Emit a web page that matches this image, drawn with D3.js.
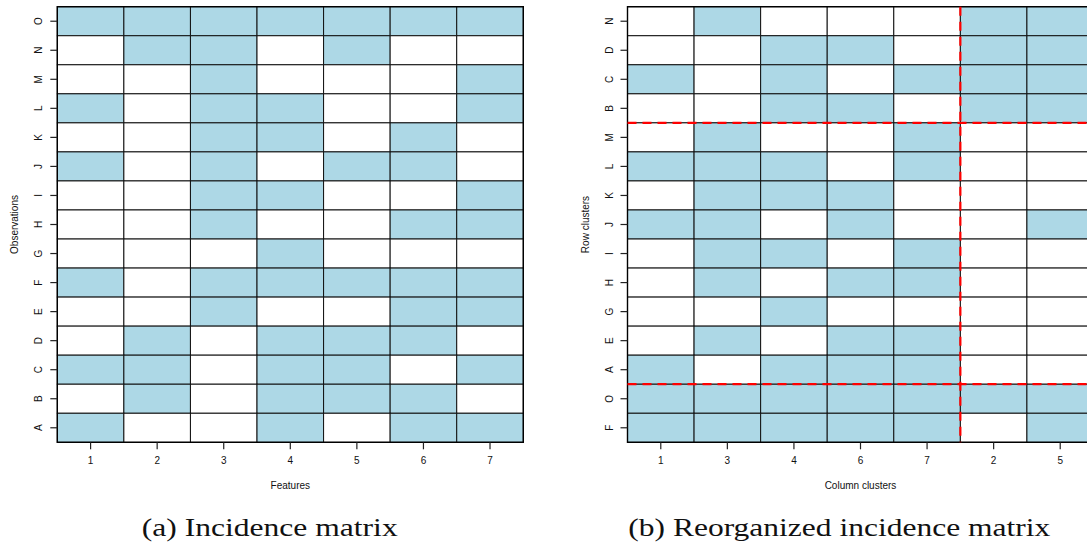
<!DOCTYPE html>
<html>
<head>
<meta charset="utf-8">
<script src="https://cdn.jsdelivr.net/npm/d3@7"></script>
<style>
  html, body { margin: 0; padding: 0; background: #fff; }
  svg { display: block; }
  .tick text { font-family: "Liberation Sans", Arial, sans-serif; font-size: 10px; fill: #111; }
  .axis-title { font-family: "Liberation Sans", Arial, sans-serif; font-size: 10px; fill: #111; }
  .caption { font-family: "Liberation Serif", "DejaVu Serif", serif; font-size: 26px; fill: #111; }
</style>
</head>
<body>
<script>
// Features (columns) and observations (rows) of the binary incidence matrix
const features = ["1", "2", "3", "4", "5", "6", "7"];
const observations = ["A", "B", "C", "D", "E", "F", "G", "H", "I", "J", "K", "L", "M", "N", "O"];

// Incidence values per observation, in feature order 1..7
const rowA = [1, 0, 0, 1, 0, 1, 1];
const rowB = [0, 1, 0, 1, 1, 1, 0];
const rowC = [1, 1, 0, 1, 1, 0, 1];
const rowD = [0, 1, 0, 1, 1, 1, 0];
const rowE = [0, 0, 1, 0, 0, 1, 1];
const rowF = [1, 0, 1, 1, 1, 1, 1];
const rowG = [0, 0, 0, 1, 0, 0, 0];
const rowH = [0, 0, 1, 0, 0, 1, 1];
const rowI = [0, 0, 1, 1, 0, 0, 1];
const rowJ = [1, 0, 1, 0, 1, 1, 0];
const rowK = [0, 0, 1, 1, 0, 1, 0];
const rowL = [1, 0, 1, 1, 0, 0, 1];
const rowM = [0, 0, 1, 0, 0, 0, 1];
const rowN = [0, 1, 1, 0, 1, 0, 0];
const rowO = [1, 1, 1, 1, 1, 1, 1];

// Reorganised ordering after biclustering (rows listed top to bottom)
const clusteredRows = ["N", "D", "C", "B", "M", "L", "K", "J", "I", "H", "G", "E", "A", "O", "F"];
const clusteredCols = ["1", "3", "4", "6", "7", "2", "5"];
// Cluster boundaries: first row / column of each new block
const rowClusterStarts = ["M", "O"];
const colClusterStarts = ["2"];

const incidence = {
  A: rowA, B: rowB, C: rowC, D: rowD, E: rowE, F: rowF, G: rowG, H: rowH,
  I: rowI, J: rowJ, K: rowK, L: rowL, M: rowM, N: rowN, O: rowO
};

const W = 1087, H = 547;
const fillOn = "#ADD8E6";

const svg = d3.select("body").append("svg")
  .attr("width", W).attr("height", H);

function drawPanel(opts) {
  const { left, plotTop, width, height, cols, rows, xTitle, yTitle, caption, captionX, captionLen } = opts;

  const x = d3.scaleBand().domain(cols).range([left, left + width]);
  const y = d3.scaleBand().domain(rows).range([plotTop, plotTop + height]);

  const g = svg.append("g");

  const cells = [];
  rows.forEach(r => cols.forEach(c => {
    cells.push({ r, c, v: incidence[r][features.indexOf(c)] });
  }));

  g.selectAll("rect.cell").data(cells).join("rect")
    .attr("class", "cell")
    .attr("x", d => x(d.c))
    .attr("y", d => y(d.r))
    .attr("width", x.bandwidth())
    .attr("height", y.bandwidth())
    .attr("fill", d => d.v ? fillOn : "#fff")
    .attr("stroke", "#111")
    .attr("stroke-width", 1);

  // frame
  g.append("rect")
    .attr("x", left).attr("y", plotTop)
    .attr("width", width).attr("height", height)
    .attr("fill", "none").attr("stroke", "#000").attr("stroke-width", 1.4);

  // bottom axis
  const ax = g.append("g")
    .attr("transform", `translate(0,${plotTop + height})`)
    .call(d3.axisBottom(x).tickSize(7).tickPadding(8));
  ax.select(".domain").remove();
  ax.selectAll(".tick line").attr("stroke", "#222").attr("stroke-width", 1.2);

  // left axis, labels read bottom-to-top
  const ay = g.append("g")
    .attr("transform", `translate(${left},0)`)
    .call(d3.axisLeft(y).tickSize(7));
  ay.select(".domain").remove();
  ay.selectAll(".tick line").attr("stroke", "#222").attr("stroke-width", 1.2);
  ay.selectAll(".tick text")
    .attr("transform", "rotate(-90)")
    .attr("x", 0).attr("y", -15).attr("dy", null)
    .attr("text-anchor", "middle");

  g.append("text").attr("class", "axis-title")
    .attr("x", left + width / 2).attr("y", plotTop + height + 47)
    .attr("text-anchor", "middle")
    .text(xTitle);

  g.append("text").attr("class", "axis-title")
    .attr("transform", `translate(${left - 39},${plotTop + height / 2}) rotate(-90)`)
    .attr("text-anchor", "middle")
    .text(yTitle);

  g.append("text").attr("class", "caption")
    .attr("x", captionX).attr("y", 535.5)
    .attr("textLength", captionLen)
    .attr("lengthAdjust", "spacingAndGlyphs")
    .text(caption);

  return { g, x, y };
}

const plotTop = 6.7, height = 435.6, width = 466;

drawPanel({
  left: 57.3, plotTop, width, height,
  cols: features,
  rows: observations.slice().reverse(),
  xTitle: "Features", yTitle: "Observations",
  caption: "(a) Incidence matrix", captionX: 141.7, captionLen: 256
});

const right = drawPanel({
  left: 627.5, plotTop, width, height,
  cols: clusteredCols,
  rows: clusteredRows,
  xTitle: "Column clusters", yTitle: "Row clusters",
  caption: "(b) Reorganized incidence matrix", captionX: 628.3, captionLen: 422
});

// cluster separators
const dash = "9,6";
rowClusterStarts.forEach(r => {
  const yy = right.y(r);
  right.g.append("line")
    .attr("x1", 627.5).attr("x2", 627.5 + width)
    .attr("y1", yy).attr("y2", yy)
    .attr("stroke", "#ff0000").attr("stroke-width", 2.2)
    .attr("stroke-dasharray", dash);
});
colClusterStarts.forEach(c => {
  const xx = right.x(c);
  right.g.append("line")
    .attr("x1", xx).attr("x2", xx)
    .attr("y1", plotTop).attr("y2", plotTop + height)
    .attr("stroke", "#ff0000").attr("stroke-width", 2.2)
    .attr("stroke-dasharray", dash);
});
</script>
</body>
</html>
